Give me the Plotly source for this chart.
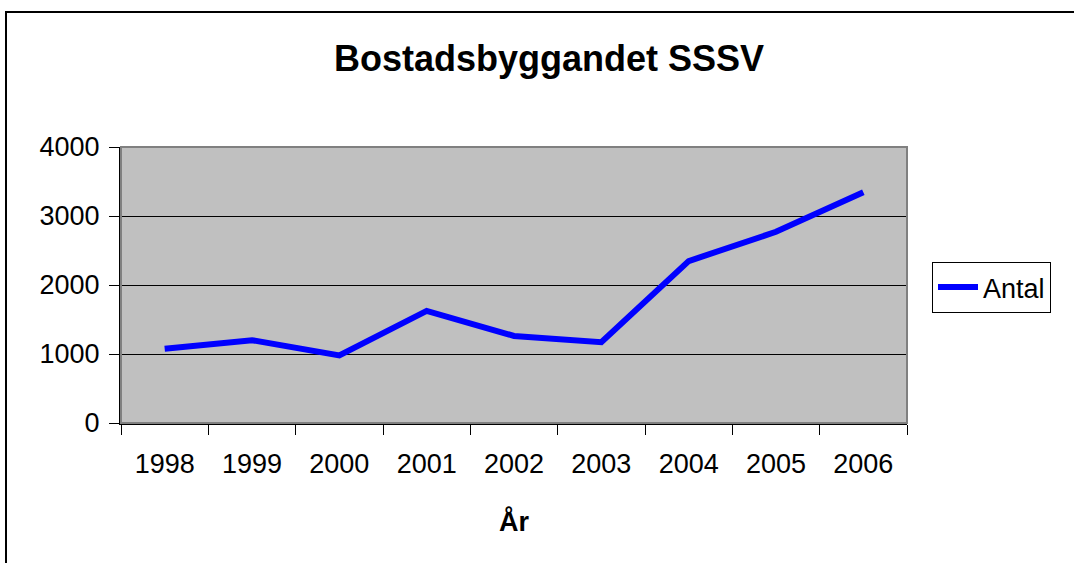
import plotly.graph_objects as go

years = ["1998", "1999", "2000", "2001", "2002", "2003", "2004", "2005", "2006"]
antal = [1075, 1200, 980, 1625, 1262, 1171, 2347, 2771, 3345]
y_ticks = [0, 1000, 2000, 3000, 4000]

FONT = "Arial, Liberation Sans, sans-serif"
W, H = 1074, 563
# target plot area in screen pixels: x 121..907, y 147..423
L, T = 121, 147
R = W - 907
B = H - 423
pw, ph = W - L - R, H - T - B

fig = go.Figure()
fig.add_trace(go.Scatter(
    x=years, y=antal, mode="lines", name="Antal",
    line=dict(color="#0000FF", width=6),
))

def px_x(x):
    return (x - L) / pw

def px_y(y):
    return 1 - (y - T) / ph

fig.update_layout(
    width=W, height=H,
    margin=dict(l=L, r=R, t=T, b=B),
    paper_bgcolor="white",
    plot_bgcolor="#C0C0C0",
    font=dict(family=FONT, size=27, color="black"),
    title=dict(text="<b>Bostadsbyggandet SSSV</b>", font=dict(size=36, family=FONT, color="black"),
               x=549 / W, xref="container", xanchor="center",
               y=1 - 58 / H, yref="container", yanchor="middle"),
    showlegend=True,
    legend=dict(x=px_x(932), y=px_y(262), xanchor="left", yanchor="top",
                bordercolor="black", borderwidth=1, bgcolor="white",
                itemwidth=40,
                font=dict(size=27, family=FONT, color="black")),
    xaxis=dict(type="category", range=[-0.5, 8.5], tickson="boundaries",
               ticks="outside", ticklen=10, tickcolor="black", tickwidth=1,
               showline=True, linecolor="black", linewidth=2, showgrid=False,
               ticklabelstandoff=16,
               tickfont=dict(size=27, family=FONT),
               title=dict(text="<b>År</b>", font=dict(size=27, family=FONT), standoff=34)),
    yaxis=dict(range=[0, 4000], tickvals=y_ticks, ticktext=[str(v) for v in y_ticks],
               ticks="outside", ticklen=10, tickcolor="black", tickwidth=1,
               showline=True, linecolor="black", linewidth=2,
               showgrid=True, gridcolor="black", gridwidth=1, zeroline=False,
               ticklabelstandoff=4,
               tickfont=dict(size=27, family=FONT)),
)

# plot area border (top/right gray)
fig.add_shape(type="rect", xref="paper", yref="paper", x0=0, x1=1, y0=0, y1=1,
              line=dict(color="#808080", width=2), layer="above")
# outer chart border
fig.add_shape(type="rect", xref="paper", yref="paper",
              x0=px_x(6), x1=px_x(1200), y0=px_y(700), y1=px_y(12),
              line=dict(color="black", width=2), layer="above")

fig.write_html("out.html", config={"displayModeBar": False},
               post_script="document.body.style.margin='0';")
